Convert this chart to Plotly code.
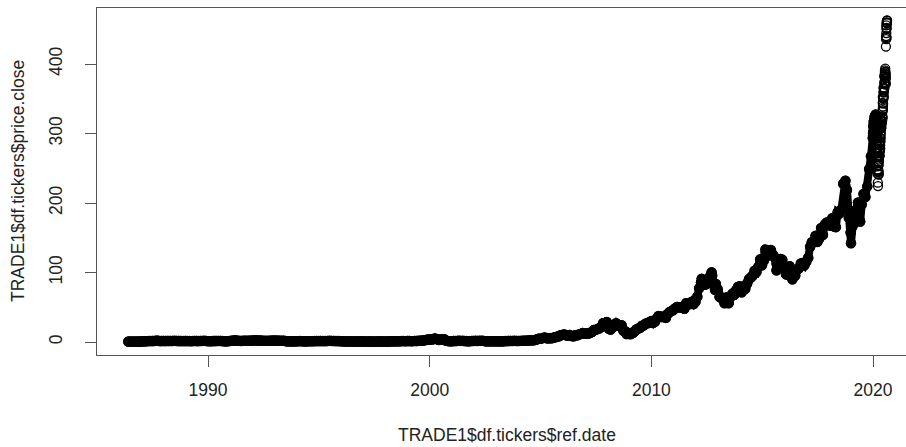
import plotly.graph_objects as go

# ---- data (price.close, monthly samples) ----
years = list(range(1986, 2020))
monthly_close = {
    1986: [None, None, None, None, 0.60, 0.62, 0.55, 0.58, 0.60, 0.65, 0.70, 0.72],
    1987: [0.95, 1.10, 1.25, 1.40, 1.40, 1.45, 1.55, 1.80, 1.90, 1.30, 1.45, 1.50],
    1988: [1.45, 1.50, 1.50, 1.50, 1.55, 1.65, 1.50, 1.45, 1.45, 1.35, 1.30, 1.45],
    1989: [1.40, 1.30, 1.25, 1.40, 1.60, 1.45, 1.40, 1.55, 1.60, 1.65, 1.55, 1.25],
    1990: [1.20, 1.25, 1.45, 1.45, 1.55, 1.60, 1.50, 1.40, 1.05, 1.00, 1.25, 1.55],
    1991: [1.90, 2.00, 2.40, 1.95, 1.70, 1.50, 1.70, 1.95, 1.75, 1.80, 1.90, 2.00],
    1992: [2.30, 2.40, 2.20, 2.10, 2.05, 1.75, 1.65, 1.70, 1.65, 1.85, 2.00, 2.10],
    1993: [2.05, 1.95, 1.85, 1.75, 1.80, 1.45, 0.95, 0.95, 0.90, 1.00, 1.10, 1.05],
    1994: [1.25, 1.30, 1.20, 1.05, 1.05, 0.95, 1.15, 1.25, 1.20, 1.40, 1.30, 1.40],
    1995: [1.45, 1.35, 1.30, 1.40, 1.50, 1.65, 1.60, 1.55, 1.35, 1.30, 1.35, 1.15],
    1996: [0.95, 0.85, 0.90, 0.85, 0.90, 0.75, 0.60, 0.75, 0.80, 0.85, 0.80, 0.75],
    1997: [0.60, 0.55, 0.65, 0.60, 0.60, 0.50, 0.65, 0.60, 0.75, 0.60, 0.55, 0.47],
    1998: [0.62, 0.78, 0.97, 0.95, 0.99, 0.99, 1.20, 1.10, 1.35, 1.30, 1.15, 1.45],
    1999: [1.45, 1.25, 1.25, 1.60, 1.45, 1.65, 1.90, 2.10, 2.30, 2.85, 3.50, 3.65],
    2000: [3.60, 4.00, 4.85, 4.40, 3.00, 3.75, 3.60, 4.10, 1.85, 1.40, 1.20, 1.05],
    2001: [1.55, 1.30, 1.60, 1.85, 1.60, 1.65, 1.35, 1.35, 1.10, 1.25, 1.50, 1.55],
    2002: [1.75, 1.55, 1.70, 1.75, 1.65, 1.25, 1.05, 1.05, 1.00, 1.15, 1.10, 1.00],
    2003: [1.00, 1.05, 1.00, 1.00, 1.30, 1.35, 1.50, 1.60, 1.50, 1.65, 1.50, 1.55],
    2004: [1.60, 1.70, 1.95, 1.85, 2.00, 2.30, 2.30, 2.50, 2.75, 3.70, 4.80, 4.60],
    2005: [5.50, 6.40, 5.96, 5.16, 5.70, 5.26, 6.09, 6.70, 7.66, 8.20, 9.70, 10.30],
    2006: [10.8, 9.8, 8.96, 10.05, 8.5, 8.2, 9.75, 9.7, 11.0, 11.6, 13.1, 12.1],
    2007: [12.25, 12.1, 13.3, 14.3, 17.3, 17.4, 18.8, 19.8, 21.9, 27.1, 26.0, 28.3],
    2008: [19.3, 17.9, 20.5, 24.9, 27.0, 23.9, 22.7, 24.2, 16.2, 15.4, 13.2, 12.2],
    2009: [12.9, 12.8, 15.0, 18.0, 19.4, 20.3, 23.3, 24.0, 26.5, 26.9, 28.6, 30.1],
    2010: [27.4, 29.2, 33.6, 37.3, 36.7, 35.9, 36.75, 34.7, 40.5, 43.0, 44.45, 46.1],
    2011: [48.5, 50.5, 49.8, 50.0, 49.7, 47.95, 55.8, 55.0, 54.5, 57.8, 54.6, 57.9],
    2012: [65.2, 77.5, 85.65, 83.4, 82.5, 83.4, 87.25, 95.0, 95.3, 85.0, 83.6, 76.0],
    2013: [65.1, 63.1, 63.2, 63.25, 64.25, 56.6, 64.6, 69.6, 68.1, 74.7, 79.4, 80.1],
    2014: [71.5, 75.2, 76.7, 84.3, 90.4, 92.93, 95.6, 102.5, 100.75, 108.0, 118.93, 110.38],
    2015: [117.16, 128.46, 124.43, 125.15, 130.28, 125.43, 121.3, 112.76, 110.3, 119.5, 118.3, 105.26],
    2016: [97.34, 96.69, 108.99, 93.74, 99.86, 95.6, 104.21, 106.1, 113.05, 113.54, 110.52, 115.82],
    2017: [121.35, 136.99, 143.66, 143.65, 152.76, 144.02, 148.73, 164.0, 154.12, 169.04, 171.85, 169.23],
    2018: [167.43, 178.12, 167.78, 165.26, 186.87, 185.11, 190.29, 227.63, 225.74, 218.86, 178.58, 157.74],
    2019: [166.44, 173.15, 189.95, 200.67, 175.07, 197.92, 213.04, 208.74, 223.97, 248.76, 267.25, 293.65],
}

# extra points at visible highs / lows
extra_dates = ["2000-03-22", "2007-12-27", "2008-11-20", "2009-01-20", "2012-04-09",
               "2012-09-19", "2012-11-15", "2013-04-19", "2013-06-24", "2015-02-23",
               "2015-05-22", "2015-08-24", "2016-05-12", "2018-10-03", "2019-01-03",
               "2019-06-03"]
extra_close = [4.96, 28.7, 11.5, 11.2, 90.9, 100.3, 75.1, 55.8, 55.8, 133.0,
               132.5, 103.1, 90.3, 232.07, 142.19, 173.3]

# 2020, daily-ish samples
dates_2020 = [
    "2020-01-02", "2020-01-03", "2020-01-06", "2020-01-07", "2020-01-08", "2020-01-09",
    "2020-01-10", "2020-01-13", "2020-01-14", "2020-01-15", "2020-01-16", "2020-01-17",
    "2020-01-21", "2020-01-22", "2020-01-23", "2020-01-24", "2020-01-27", "2020-01-28",
    "2020-01-29", "2020-01-30", "2020-01-31", "2020-02-03", "2020-02-04", "2020-02-05",
    "2020-02-06", "2020-02-07", "2020-02-10", "2020-02-11", "2020-02-12", "2020-02-13",
    "2020-02-14", "2020-02-18", "2020-02-19", "2020-02-20", "2020-02-21", "2020-02-24",
    "2020-02-25", "2020-02-26", "2020-02-27", "2020-02-28", "2020-03-02", "2020-03-03",
    "2020-03-04", "2020-03-05", "2020-03-06", "2020-03-09", "2020-03-10", "2020-03-11",
    "2020-03-12", "2020-03-13", "2020-03-16", "2020-03-17", "2020-03-18", "2020-03-19",
    "2020-03-20", "2020-03-23", "2020-03-24", "2020-03-25", "2020-03-26", "2020-03-27",
    "2020-03-30", "2020-03-31", "2020-04-01", "2020-04-02", "2020-04-03", "2020-04-06",
    "2020-04-07", "2020-04-08", "2020-04-09", "2020-04-13", "2020-04-14", "2020-04-15",
    "2020-04-16", "2020-04-17", "2020-04-20", "2020-04-21", "2020-04-22", "2020-04-23",
    "2020-04-24", "2020-04-27", "2020-04-28", "2020-04-29", "2020-04-30", "2020-05-01",
    "2020-05-04", "2020-05-05", "2020-05-06", "2020-05-07", "2020-05-08", "2020-05-11",
    "2020-05-12", "2020-05-13", "2020-05-14", "2020-05-15", "2020-05-18", "2020-05-19",
    "2020-05-20", "2020-05-21", "2020-05-22", "2020-05-26", "2020-05-27", "2020-05-28",
    "2020-05-29", "2020-06-01", "2020-06-02", "2020-06-03", "2020-06-04", "2020-06-05",
    "2020-06-08", "2020-06-09", "2020-06-10", "2020-06-11", "2020-06-12", "2020-06-15",
    "2020-06-16", "2020-06-17", "2020-06-18", "2020-06-19", "2020-06-22", "2020-06-23",
    "2020-06-24", "2020-06-25", "2020-06-26", "2020-06-29", "2020-06-30", "2020-07-01",
    "2020-07-02", "2020-07-06", "2020-07-07", "2020-07-08", "2020-07-09", "2020-07-10",
    "2020-07-13", "2020-07-14", "2020-07-15", "2020-07-16", "2020-07-17", "2020-07-20",
    "2020-07-21", "2020-07-22", "2020-07-23", "2020-07-24", "2020-07-27", "2020-07-28",
    "2020-07-29", "2020-07-30", "2020-07-31", "2020-08-03", "2020-08-04", "2020-08-05",
    "2020-08-06", "2020-08-07", "2020-08-10", "2020-08-11", "2020-08-12", "2020-08-13",
    "2020-08-14", "2020-08-17", "2020-08-18", "2020-08-19",
]
close_2020 = [
    300.35, 297.43, 299.80, 298.39, 303.19, 309.63,
    310.33, 316.96, 312.68, 311.34, 315.24, 318.73,
    316.57, 317.70, 319.23, 318.31, 308.95, 317.69,
    324.34, 323.87, 309.51, 308.66, 318.85, 321.45,
    325.21, 320.03, 321.55, 319.61, 327.20, 324.87,
    324.95, 319.00, 323.62, 320.30, 313.05, 298.18,
    288.08, 292.65, 273.52, 273.36, 298.81, 289.32,
    302.74, 292.92, 289.03, 266.17, 285.34, 275.43,
    248.23, 277.97, 242.21, 252.86, 246.67, 244.78,
    229.24, 224.37, 246.88, 245.52, 258.44, 247.74,
    254.81, 254.29, 240.91, 244.93, 241.41, 262.47,
    259.43, 266.07, 267.99, 273.25, 287.05, 284.43,
    286.69, 282.80, 276.93, 268.37, 276.10, 275.03,
    282.97, 283.17, 278.58, 287.73, 293.80, 289.07,
    293.16, 297.56, 300.63, 303.74, 310.13, 315.01,
    311.41, 307.65, 309.54, 307.71, 314.96, 313.14,
    319.23, 316.85, 318.89, 316.73, 318.11, 318.25,
    317.94, 321.85, 323.34, 325.12, 322.32, 331.50,
    333.46, 343.99, 352.84, 335.90, 338.80, 342.99,
    352.08, 351.59, 351.73, 349.72, 358.87, 366.53,
    360.06, 364.84, 353.63, 361.78, 364.80, 364.11,
    364.11, 373.85, 372.69, 381.37, 383.01, 383.68,
    381.91, 388.23, 390.90, 386.09, 385.31, 393.43,
    388.00, 389.09, 371.38, 370.46, 379.24, 373.01,
    380.16, 384.76, 425.04, 435.75, 438.66, 440.25,
    455.61, 444.45, 450.91, 437.50, 452.04, 460.04,
    459.63, 458.43, 462.25, 462.83,
]

x_ticks = ["1990-01-01", "2000-01-01", "2010-01-01", "2020-01-01"]
x_tick_labels = ["1990", "2000", "2010", "2020"]
y_ticks = [0, 100, 200, 300, 400]
x_title = "TRADE1$df.tickers$ref.date"
y_title = "TRADE1$df.tickers$price.close"

# ---- assemble ----
pts = []
for y in years:
    for m, v in enumerate(monthly_close[y], start=1):
        if v is not None:
            pts.append((f"{y}-{m:02d}-28", v))
pts += list(zip(extra_dates, extra_close))
pts += list(zip(dates_2020, close_2020))
pts.sort(key=lambda p: p[0])
xs = [p[0] for p in pts]
ys = [p[1] for p in pts]

# dense band: the part where overlapping circles merge into solid black
band_x = [d for d in xs if d <= "2020-02-21"]
band_y = ys[:len(band_x)]

font_family = "Liberation Sans, Arial, sans-serif"
axis_col = "#555555"

fig = go.Figure()
fig.add_trace(go.Scatter(
    x=band_x, y=band_y, mode="lines+markers",
    line=dict(color="black", width=8),
    marker=dict(symbol="circle", size=10.5, color="black", line=dict(width=0)),
    hoverinfo="skip", showlegend=False,
))
fig.add_trace(go.Scatter(
    x=xs, y=ys, mode="markers",
    marker=dict(symbol="circle-open", size=9, color="black", line=dict(width=1.3, color="black")),
    showlegend=False,
))

fig.update_layout(
    width=906, height=447,
    margin=dict(l=97, r=0, t=8, b=92, pad=0),
    paper_bgcolor="white", plot_bgcolor="white",
    font=dict(family=font_family, size=17.5, color="#222222"),
    showlegend=False,
    xaxis=dict(
        type="date", range=["1984-12-29", "2021-06-27"],
        tickmode="array", tickvals=x_ticks, ticktext=x_tick_labels,
        ticks="outside", ticklen=11, tickwidth=1, tickcolor=axis_col,
        showline=True, linecolor=axis_col, linewidth=1.2, mirror=True,
        showgrid=False, zeroline=False, ticklabelstandoff=8,
    ),
    yaxis=dict(
        range=[-18.7, 480.6],
        tickmode="array", tickvals=y_ticks,
        tickangle=-90,
        ticks="outside", ticklen=11, tickwidth=1, tickcolor=axis_col,
        showline=True, linecolor=axis_col, linewidth=1.2, mirror=False,
        showgrid=False, zeroline=False, ticklabelstandoff=16,
    ),
    annotations=[
        dict(text=x_title, xref="x", yref="paper", x="2003-06-20", y=-0.2305,
             xanchor="center", yanchor="middle", showarrow=False,
             font=dict(family=font_family, size=17.5, color="#222222")),
        dict(text=y_title, xref="paper", yref="y", x=-0.097, y=231, textangle=-90,
             xanchor="center", yanchor="middle", showarrow=False,
             font=dict(family=font_family, size=17.5, color="#222222")),
    ],
)

fig.write_html("out.html")
